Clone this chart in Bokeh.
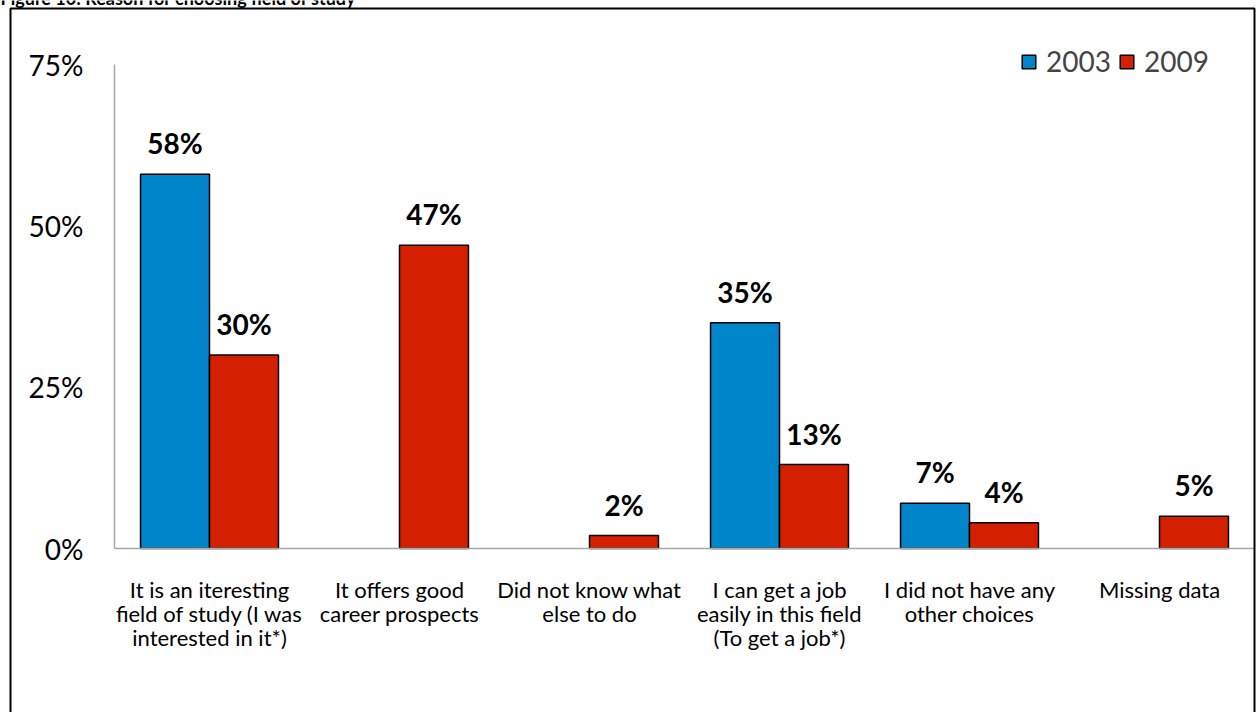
from bokeh.plotting import figure
from bokeh.models import (ColumnDataSource, Range1d, FixedTicker, Legend, LegendItem,
                          BoxAnnotation, Label)
from bokeh.core.properties import value
from bokeh.embed import file_html
from bokeh.resources import INLINE

# ---------------- data ----------------
categories = [
    "It is an iteresting\nfield of study (I was\ninterested in it*)",
    "It offers good\ncareer prospects",
    "Did not know what\nelse to do",
    "I can get a job\neasily in this field\n(To get a job*)",
    "I did not have any\nother choices",
    "Missing data",
]
series_2003 = [58, None, None, 35, 7, None]
series_2009 = [30, 47, 2, 13, 4, 5]
years = ["2003", "2009"]
y_ticks = [0, 25, 50, 75]
y_tick_labels = ["0%", "25%", "50%", "75%"]
title_text = "Figure 10: Reason for choosing field of study"

# ---------------- layout constants ----------------
W, H = 1259, 712
X0, CAT = 114, 190          # px of first category start, px per category
Y0, PXU = 548, 484 / 75     # px of zero line, px per percentage unit
BAR_W = 0.363
colors = ["#0084CA", "#D42000"]
FONT = "Lato"

x_start = (0 - X0) / CAT
x_end = (W - X0) / CAT
y_end = Y0 / PXU
y_start = (Y0 - H) / PXU

p = figure(width=W, height=H, x_range=Range1d(x_start, x_end), y_range=Range1d(y_start, y_end),
           output_backend="svg", toolbar_location=None, min_border=0,
           outline_line_color=None, background_fill_color="white", border_fill_color="white")
p.grid.visible = False

centers = [i + 0.5 for i in range(len(categories))]

renderers = []
for k, (series, col) in enumerate(zip([series_2003, series_2009], colors)):
    off = (-0.5 + k) * BAR_W
    xs = [c + off for c, v in zip(centers, series) if v is not None]
    vs = [v for v in series if v is not None]
    src = ColumnDataSource(dict(x=xs, top=vs, lab=[f"{v}%" for v in vs]))
    r = p.vbar(x="x", top="top", bottom=0, width=BAR_W, source=src,
               fill_color=col, line_color="black", line_width=1.5)
    renderers.append(r)
    p.text(x="x", y="top", text="lab", source=src, text_align="center",
           text_baseline="alphabetic", y_offset=-31,
           text_font=value(FONT), text_font_style="bold", text_font_size="28px",
           text_color="black")

# axes
xa = p.xaxis[0]
xa.fixed_location = 0
xa.bounds = (0, len(categories))
xa.ticker = FixedTicker(ticks=centers)
xa.major_label_overrides = {c: lab for c, lab in zip(centers, categories)}
xa.axis_line_color = "#A6A6A6"
xa.axis_line_width = 1.5
xa.major_tick_line_color = None
xa.minor_tick_line_color = None
xa.major_label_standoff = 21
xa.major_label_text_font = FONT
xa.major_label_text_font_size = "22px"
xa.major_label_text_color = "black"
xa.major_label_text_line_height = 0.89

ya = p.yaxis[0]
ya.fixed_location = 0
ya.bounds = (0, 75)
ya.ticker = FixedTicker(ticks=y_ticks)
ya.major_label_overrides = {t: lab for t, lab in zip(y_ticks, y_tick_labels)}
ya.axis_line_color = "#A6A6A6"
ya.axis_line_width = 1.5
ya.major_tick_line_color = None
ya.minor_tick_line_color = None
ya.major_label_standoff = 25
ya.major_label_text_font = FONT
ya.major_label_text_font_size = "28px"
ya.major_label_text_color = "black"

# outer frame
p.add_layout(BoxAnnotation(left=(10 - X0) / CAT, right=(1254 - X0) / CAT,
                           top=(Y0 - 8) / PXU, bottom=y_start - 5,
                           fill_alpha=0, line_color="black", line_alpha=1, line_width=2))

# title, cut off at the top edge as in the source page
p.add_layout(Label(x=x_start, y=(Y0 + 3) / PXU, text=title_text,
                   text_font=FONT, text_font_style="bold", text_font_size="18px",
                   text_baseline="alphabetic", text_color="black"))

legend = Legend(items=[LegendItem(label=y, renderers=[r]) for y, r in zip(years, renderers)],
                orientation="horizontal", location=(1020, H - 78),
                label_text_font=FONT, label_text_font_size="28px",
                glyph_width=17, glyph_height=17, label_standoff=9, spacing=7,
                padding=0, margin=0, border_line_color=None, background_fill_alpha=0)
p.add_layout(legend)

open("out.html", "w").write(file_html(p, INLINE))
